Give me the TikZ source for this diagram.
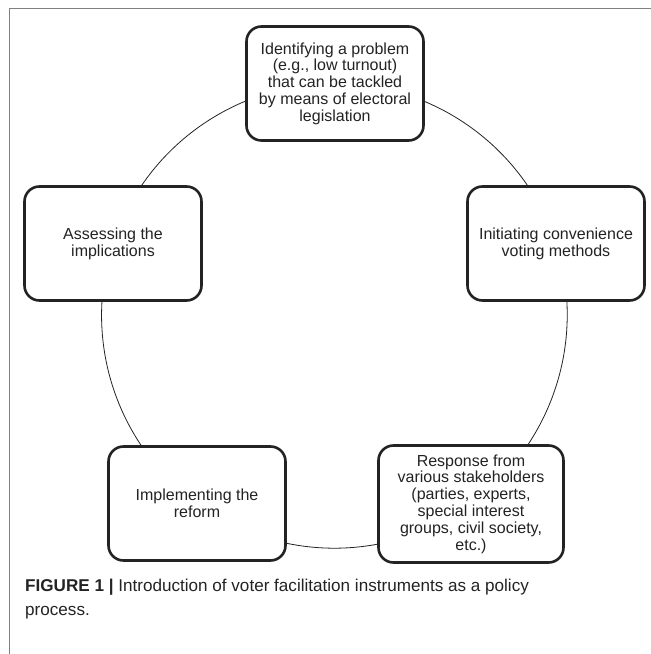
\documentclass[tikz,border=0pt]{standalone}
\usepackage{fontspec}
\setmainfont{Liberation Sans}
\usepackage{tikz}
\usetikzlibrary{backgrounds}
\definecolor{framegray}{RGB}{128,128,128}
\definecolor{inkgray}{RGB}{35,35,35}

\begin{document}
\begin{tikzpicture}[x=1pt, y=1pt,
    stage/.style={draw=inkgray, line width=2.6pt, rounded corners=15pt, fill=white,
        align=center, inner sep=0pt, minimum width=177pt, minimum height=114pt,
        text=inkgray, font=\fontsize{16}{16.8}\selectfont},
    ring/.style={draw=inkgray, line width=0.8pt}]
\useasboundingbox (0,0) rectangle (651,654);

% Open frame
\draw[framegray, line width=1.6pt] (651,645.3) -- (9.3,645.3) -- (9.3,0);

% Stages of the cycle
\node[stage] (identify) at (335,570.5) {Identifying a problem\\(e.g., low turnout)\\that can be tackled\\by means of electoral\\legislation};
\node[stage] (initiate) at (556,410.5) {Initiating convenience\\voting methods};
\node[stage, minimum width=185pt, minimum height=117pt] (response) at (471,150) {Response from\\various stakeholders\\(parties, experts,\\special interest\\groups, civil society,\\etc.)};
\node[stage] (implement) at (197,150.5) {Implementing the\\reform};
\node[stage] (assess) at (113,410.5) {Assessing the\\implications};

% Ring behind the stages
\begin{scope}[on background layer]
\foreach \a/\b in {identify/initiate, initiate/response, response/implement, implement/assess, assess/identify} {
    \draw[ring] (\a.center) to[bend left=36, looseness=0.94] (\b.center);
}
\end{scope}

% Caption
\node[anchor=base west, align=left, inner sep=0pt, text=inkgray, font=\fontsize{17.1}{24}\selectfont] (caption) at (25,38.3)
    {\textbf{FIGURE 1 |} Introduction of voter facilitation instruments as a policy\\process.};
\end{tikzpicture}
\end{document}
